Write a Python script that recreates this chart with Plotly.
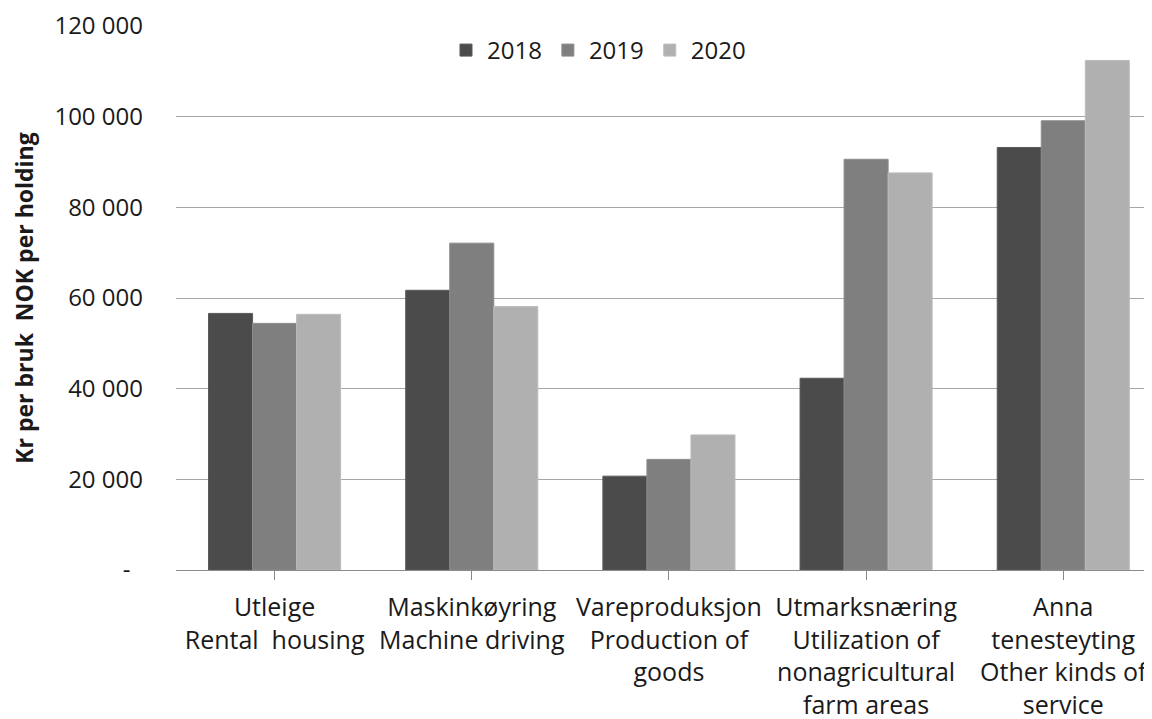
import plotly.graph_objects as go

categories = [
    "Utleige<br>Rental  housing",
    "Maskinkøyring<br>Machine driving",
    "Vareproduksjon<br>Production of<br>goods",
    "Utmarksnæring<br>Utilization of<br>nonagricultural<br>farm areas",
    "Anna<br>tenesteyting<br>Other kinds of<br>service",
]
years = ["2018", "2019", "2020"]
v2018 = [56600, 61700, 20700, 42300, 93200]
v2019 = [54400, 72100, 24400, 90600, 99100]
v2020 = [56400, 58100, 29800, 87600, 112400]
colors = ["#4b4b4b", "#7f7f7f", "#b0b0b0"]
line_colors = ["#5a5a5a", "#8c8c8c", "#bcbcbc"]

ytickvals = [0, 20000, 40000, 60000, 80000, 100000, 120000]
yticktext = ["-  ", "20 000", "40 000", "60 000", "80 000", "100 000", "120 000"]

FONT = "Open Sans"

fig = go.Figure()
for name, vals, c, lc in zip(years, [v2018, v2019, v2020], colors, line_colors):
    fig.add_trace(go.Bar(
        x=list(range(len(categories))), y=vals, name=name,
        marker=dict(color=c, line=dict(color=lc, width=1)),
    ))

fig.update_layout(
    width=1144, height=711,
    margin=dict(l=168, r=0, t=18, b=149),
    paper_bgcolor="white", plot_bgcolor="white",
    barmode="group", bargap=0.33, bargroupgap=0,
    font=dict(family=FONT, size=24, color="#1a1a1a"),
    showlegend=True,
    legend=dict(orientation="h", x=0.2756, xanchor="left", y=0.955, yanchor="middle",
                font=dict(size=24, family=FONT, color="#1a1a1a"),
                itemwidth=32, tracegroupgap=0, bgcolor="rgba(0,0,0,0)"),
    xaxis=dict(
        tickmode="array", tickvals=list(range(len(categories))), ticktext=categories,
        range=[-0.5, 4.45], tickson="boundaries", ticks="outside", ticklen=9,
        tickcolor="#8a8a8a", tickwidth=1, automargin=False,
        showline=True, linecolor="#8a8a8a", linewidth=1,
        showgrid=False, zeroline=False, tickangle=0, ticklabelstandoff=6,
        tickfont=dict(family=FONT, size=25, color="#1a1a1a"),
        fixedrange=True,
    ),
    yaxis=dict(
        range=[0, 120000], tickmode="array", tickvals=ytickvals, ticktext=yticktext,
        showgrid=True, gridcolor="#a6a6a6", gridwidth=1, automargin=False,
        showline=False, zeroline=False, ticks="", ticklabelstandoff=32,
        tickfont=dict(family=FONT, size=24, color="#1a1a1a"),
        title=dict(text="<b>Kr per bruk  NOK per holding</b>", standoff=18,
                   font=dict(family=FONT, size=23, color="#1a1a1a")),
        fixedrange=True,
    ),
)

fig.write_html("out.html")
